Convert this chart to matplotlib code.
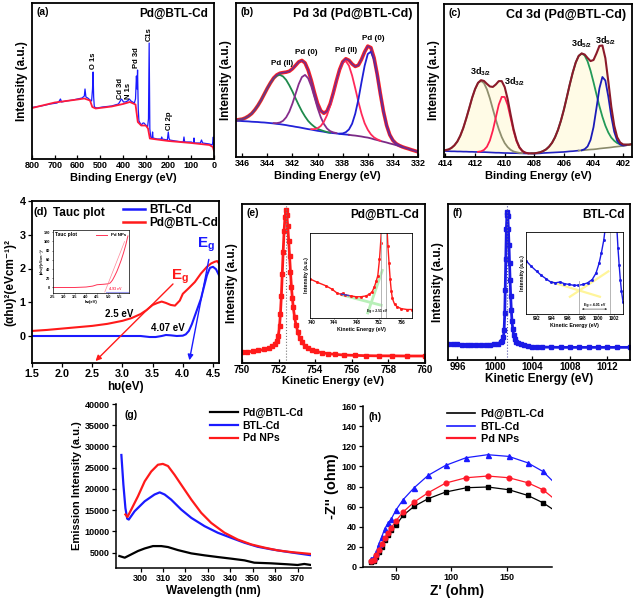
import numpy as np
import matplotlib
matplotlib.use("Agg")
import matplotlib.pyplot as plt
from matplotlib.lines import Line2D

plt.rcParams['font.family'] = ['Liberation Sans', 'DejaVu Sans']
plt.rcParams['font.weight'] = 'bold'
plt.rcParams['axes.labelweight'] = 'bold'
plt.rcParams['mathtext.fontset'] = 'custom'
plt.rcParams['mathtext.rm'] = 'Liberation Sans:bold'
plt.rcParams['mathtext.it'] = 'Liberation Sans:bold'
plt.rcParams['mathtext.bf'] = 'Liberation Sans:bold'
plt.rcParams['mathtext.default'] = 'bf'

# ---------------- data ----------------
# (a) XPS survey (binding energy, counts in arbitrary units)
a_ev_blue = [800, 760, 720, 690, 680, 675, 670, 650, 620, 600, 580, 570, 567, 563, 555, 545, 538, 534,
             531.5, 529, 526, 515, 490, 450, 420, 412, 408, 403, 398, 390, 380, 372, 365, 350, 345, 341,
             338.5, 336, 333, 330, 320, 312, 308, 300, 292, 288, 285, 282, 278, 272, 270, 268, 250, 232,
             230, 228, 205, 201, 198, 195, 170, 135, 132, 129, 100, 90, 88, 86, 60, 55, 50, 20, 8, 5, 3, 1, 0]
a_cps_blue = [51.5, 53, 55, 56, 58, 60, 57, 58, 59, 60, 61, 63, 70, 62, 61, 59, 58, 70,
              87, 62, 52, 51, 52, 53, 55, 58, 60, 59, 57, 57, 58, 60, 58, 56, 60, 83,
              70, 89, 50, 38, 34, 36, 36, 34, 32, 40, 116, 30, 22, 21, 27, 21, 20, 20,
              22, 20, 19, 27, 21, 19, 18, 17, 22, 17, 17, 16, 21, 16, 16, 19, 16, 15, 14, 17, 22, 12, 10]
a_ev_red = [800, 700, 600, 570, 545, 535, 520, 450, 400, 370, 345, 335, 320, 300, 290, 282, 250, 200, 100, 20, 5, 0]
a_cps_red = [51, 56.5, 59.5, 60.5, 58.5, 52, 50.5, 52.5, 55, 57, 54.5, 37, 33.5, 33.5, 30.5, 20.5, 19.5, 18, 16, 14, 12, 8]
a_peak_names = ['O 1s', 'Cd 3d', 'N 1s', 'Pd 3d', 'C1s', 'Cl 2p']
a_peak_ev = [530, 410, 377, 341, 284, 194]
a_peak_y = [90, 60, 60, 91, 118, 29]

# (b) Pd 3d fit: background and component heights above background
b_ev = np.linspace(347, 332, 61)
b_bg = np.array([23.9, 23.8, 23.6, 23.5, 23.3, 23.2, 23.1, 22.9, 22.8, 22.7, 22.5, 22.4, 22.2, 22.0, 21.8,
                 21.5, 21.3, 21.0, 20.7, 20.3, 20.0, 19.6, 19.3, 18.9, 18.5, 18.1, 17.8, 17.4, 17.0, 16.7,
                 16.4, 16.0, 15.7, 15.5, 15.3, 15.0, 14.8, 14.6, 14.4, 14.1, 13.9, 13.6, 13.3, 12.9, 12.6,
                 12.1, 11.5, 11.0, 10.4, 9.9, 9.4, 8.8, 8.3, 7.7, 7.1, 6.5, 5.9, 5.3, 4.6, 4.0, 3.3])
b_pd2_32 = np.array([0.1, 0.2, 0.4, 0.8, 1.3, 2.2, 3.5, 5.3, 7.8, 10.8, 14.4, 18.4, 22.5, 26.2, 29.3, 31.3,
                     32.0, 31.3, 29.3, 26.2, 22.5, 18.4, 14.4, 10.8, 7.8, 5.3, 3.5, 2.2, 1.3, 0.8, 0.4, 0.2,
                     0.1] + [0] * 28)
b_pd0_32 = np.array([0] * 14 + [0.2, 0.5, 1.1, 2.5, 5.1, 9.2, 14.8, 21.5, 28.1, 33.0, 34.8, 33.0, 28.1, 21.5,
                                14.8, 9.2, 5.1, 2.5, 1.1, 0.5, 0.2] + [0] * 26)
b_pd2_52 = np.array([0] * 26 + [0.3, 0.7, 1.7, 3.4, 6.5, 11.1, 17.6, 25.6, 34.0, 41.5, 46.5, 47.7, 44.9,
                                38.8, 30.7, 22.3, 14.8, 9.0, 5.1, 2.6, 1.2, 0.5, 0.2] + [0] * 12)
b_pd0_52 = np.array([0] * 35 + [0.2, 0.5, 1.5, 3.5, 7.5, 14.2, 23.7, 35.3, 46.4, 54.3, 56.3, 51.7, 42.2,
                                30.5, 19.6, 11.1, 5.6, 2.5, 1.0, 0.4, 0.1] + [0] * 5)
b_labels = ['Pd (II)', 'Pd (0)', 'Pd (II)', 'Pd (0)']
b_label_ev = [342.8, 340.9, 337.7, 335.6]
b_label_y = [60.5, 68, 69, 77]

# (c) Cd 3d fit
c_ev = np.linspace(414.2, 401.4, 65)
c_bg = np.array([3.9, 3.9, 3.8, 3.7, 3.7, 3.6, 3.6, 3.5, 3.5, 3.4, 3.4, 3.3,
                 3.3, 3.2, 3.2, 3.1, 3.0, 2.9, 2.8, 2.8, 2.7, 2.6,
                 2.6, 2.5, 2.5, 2.5, 2.4, 2.4, 2.3, 2.3, 2.3, 2.2,
                 2.3, 2.4, 2.6, 2.7, 2.8, 2.9, 3.0, 3.1, 3.2, 3.3,
                 3.5, 3.7, 3.8, 4.0, 4.2, 4.3, 4.5, 4.7, 4.9, 5.0,
                 5.2, 5.5, 5.7, 5.9, 6.1, 6.3, 6.6, 6.8, 7.0, 7.2,
                 7.6, 7.9, 8.3])
c_32_a = np.array([0.3, 0.6, 1.1, 2.2, 3.9, 6.5, 10.3, 15.4, 21.6, 28.4, 35.3, 41.1, 45.1, 46.5, 45.1, 41.1,
                   35.3, 28.4, 21.6, 15.4, 10.3, 6.5, 3.9, 2.2, 1.1, 0.6, 0.3, 0.1] + [0] * 37)
c_32_b = np.array([0] * 12 + [0.1, 0.5, 1.4, 3.6, 7.8, 14.5, 23, 31.4, 36.6, 36.6, 31.4, 23, 14.5, 7.8, 3.6,
                              1.4, 0.5, 0.1] + [0] * 35)
c_52_a = np.array([0] * 30 + [0.1, 0.2, 0.4, 0.7, 1.3, 2.3, 4, 6.4, 9.9, 14.6, 20.6, 27.7, 35.7, 43.9, 51.5,
                              57.8, 61.9, 63.3, 61.9, 57.8, 51.5, 43.9, 35.7, 27.7, 20.6, 14.6, 9.9, 6.4, 4,
                              2.3, 1.3, 0.7, 0.4, 0.2, 0.1])
c_52_b = np.array([0] * 47 + [0.1, 0.6, 2.2, 6.3, 14.5, 26.8, 39.4, 46.6, 44.1, 33.4, 20.3, 9.9, 3.8, 1.2,
                              0.3, 0.1] + [0] * 2)
c_label_ev = [411.6, 409.3, 404.8, 403.2]
c_label_y = [56, 49, 74, 76]
c_label_sub = ['3/2', '3/2', '5/2', '5/2']

# (d) Tauc plot
d_hv_red = [1.5, 1.75, 2.0, 2.25, 2.5, 2.75, 3.0, 3.15, 3.3, 3.4, 3.5, 3.58, 3.65, 3.72, 3.8, 3.87,
            3.95, 4.0, 4.1, 4.2, 4.3, 4.4, 4.47, 4.53, 4.57, 4.6]
d_red = [0.15, 0.18, 0.22, 0.26, 0.30, 0.36, 0.45, 0.53, 0.65, 0.77, 0.92, 0.98, 1.02, 0.98, 0.92, 0.9,
         1.05, 1.25, 1.42, 1.6, 1.85, 2.05, 2.15, 2.2, 2.22, 2.15]
d_hv_blue = [1.5, 2.0, 2.5, 3.0, 3.3, 3.45, 3.55, 3.65, 3.72, 3.8, 3.9, 4.0, 4.05, 4.1, 4.15, 4.2, 4.25,
             4.3, 4.35, 4.4, 4.45, 4.5, 4.55, 4.6]
d_blue = [0.0, 0.0, 0.0, 0.0, 0.0, -0.03, -0.03, 0.0, 0.03, 0.02, 0.0, 0.01, 0.05, 0.15, 0.35, 0.6, 0.85,
          1.1, 1.45, 1.8, 2.02, 2.05, 1.98, 1.8]
d_fit_red = ([3.87, 2.52], [1.6, -0.8])    # tangent -> Eg 2.5 eV
d_fit_blue = ([4.44, 4.10], [2.35, -0.8])  # tangent -> Eg 4.07 eV
d_in_hv = [2.5, 3.0, 3.5, 4.0, 4.3, 4.5, 4.8, 5.0, 5.1, 5.2, 5.3, 5.4, 5.5, 5.6, 5.7, 5.8, 5.9]
d_in_y = [0, 0, 0, 1, 3, 6, 7, 8, 10, 16, 25, 35, 47, 60, 75, 92, 112]
d_in_fit = ([4.85, 5.75], [-10, 100])

# (e) Pd@BTL-Cd kinetic energy spectrum
e_ke = [750.0, 750.3, 750.6, 750.9, 751.2, 751.45, 751.65, 751.8, 751.9, 751.98, 752.05, 752.1, 752.15,
        752.2, 752.25, 752.3, 752.35, 752.4, 752.45, 752.5, 752.55, 752.6, 752.65, 752.7, 752.75, 752.8,
        752.87, 752.95, 753.05, 753.15, 753.28, 753.42, 753.6, 753.8, 754.05, 754.35, 754.7, 755.1, 755.6,
        756.2, 756.8, 757.5, 758.2, 759.0, 760.0]
e_int = [6.7, 7.0, 7.4, 7.9, 8.5, 9.3, 10.5, 12, 14, 17, 23, 31, 42, 56, 70, 83, 92, 96, 93, 86, 77, 67,
         57, 48, 41, 35, 29, 24, 19.5, 16, 13, 11, 9.4, 8.2, 7.3, 6.5, 5.9, 5.4, 5.0, 4.8, 4.6, 4.5, 4.5,
         4.4, 4.4]
e_peak = 752.4
e_in_ke = [739.7, 741.0, 742.5, 743.6, 744.6, 745.2, 745.5, 746.0, 747.0, 747.9, 748.8, 749.7, 750.3,
           750.8, 751.2, 751.5, 751.8, 752.1, 752.3, 752.5, 753.4, 753.6, 753.8, 754.0, 754.2, 754.4,
           754.8, 755.3, 756.0, 757.0, 757.9]
e_in_int = [0.46, 0.42, 0.38, 0.34, 0.29, 0.28, 0.29, 0.27, 0.26, 0.25, 0.25, 0.26, 0.28, 0.31, 0.37,
            0.43, 0.5, 0.69, 0.88, 1.1, 1.1, 0.85, 0.65, 0.46, 0.32, 0.23, 0.16, 0.13, 0.11, 0.1, 0.1]
e_in_fit1 = ([745.5, 752.4], [0.27, 0.15])
e_in_fit2 = ([750.0, 752.6], [0.06, 0.56])

# (f) BTL-Cd kinetic energy spectrum
f_ke = [995.0, 995.5, 996.0, 996.5, 997.0, 997.5, 998.0, 998.5, 999.0, 999.5, 999.9, 1000.3, 1000.6,
        1000.8, 1000.9, 1000.98, 1001.05, 1001.1, 1001.16, 1001.22, 1001.28, 1001.33, 1001.38, 1001.44,
        1001.5, 1001.56, 1001.62, 1001.68, 1001.75, 1001.82, 1001.9, 1002.0, 1002.12, 1002.3, 1002.5,
        1002.75, 1003.1, 1003.5, 1004.0, 1004.5, 1005.0, 1006.0, 1007.0, 1008.0, 1009.0, 1010.0, 1011.0,
        1012.0, 1013.0, 1014.4]
f_int = [10.3, 10.1, 10.0, 9.8, 9.7, 9.6, 9.5, 9.4, 9.4, 9.6, 10.0, 10.5, 11.3, 12.5, 14.5, 19, 30, 45,
         65, 84, 93, 95, 92, 84, 74, 62, 51, 41, 32, 25, 20, 16, 13.5, 11.8, 10.8, 10.0, 9.3, 8.9, 8.5, 8.4,
         8.3, 8.2, 8.1, 8.1, 8.1, 8.1, 8.1, 8.1, 8.1, 8.1]
f_peak = 1001.33
f_in_ke = [990.6, 991.3, 992.0, 992.6, 993.2, 993.8, 994.4, 995.0, 995.6, 996.2, 996.8, 997.4, 998.0,
           998.6, 999.2, 999.7, 1000.1, 1000.4, 1000.7, 1000.9, 1002.4, 1002.55, 1002.7, 1002.85, 1003.0,
           1003.2]
f_in_int = [0.65, 0.58, 0.52, 0.47, 0.43, 0.39, 0.38, 0.39, 0.37, 0.36, 0.35, 0.35, 0.36, 0.38, 0.42,
            0.5, 0.62, 0.75, 0.9, 1.05, 1.05, 0.8, 0.6, 0.42, 0.28, 0.15]
f_in_fit1 = ([993.9, 1000.2], [0.39, 0.21])
f_in_fit2 = ([996.3, 1001.3], [0.21, 0.52])

# (g) emission spectra
g_wl_black = [290.5, 292.9, 295.8, 298.8, 301.8, 305.5, 309.2, 312.2, 316.6, 322.6, 328.5, 334.4, 340.4,
              346.3, 350.7, 358.2, 365.6, 370.0, 373.0, 376.0]
g_black = [4220, 3830, 4600, 5400, 6000, 6560, 6560, 6330, 5620, 4840, 4380, 3980, 3600, 3200, 2650, 2500,
           2270, 2110, 2350, 2110]
g_wl_blue = [291.4, 292.3, 293.2, 294.0, 294.7, 297.3, 301.8, 306.2, 308.5, 310.7, 313.6, 318.1, 322.6,
             328.5, 334.4, 340.4, 346.3, 352.2, 358.2, 364.1, 370.0, 376.0]
g_blue = [28000, 21000, 15500, 13000, 12800, 14760, 17100, 18700, 19200, 18700, 17500, 15150, 13200, 11250,
          9700, 8500, 7350, 6400, 5800, 5300, 4850, 4400]
g_wl_red = [293.2, 294.1, 295.8, 298.8, 301.8, 304.7, 307.7, 309.9, 312.2, 315.1, 318.1, 322.6, 327.0,
            331.5, 337.4, 343.3, 349.3, 355.2, 361.1, 367.1, 376.0]
g_red = [14000, 13400, 15150, 18280, 21800, 24100, 25700, 25900, 25400, 23350, 21000, 17500, 14400, 12000,
         9700, 8100, 6950, 6200, 5550, 5150, 4700]

# (h) Nyquist plots
h_x_black = [28.0, 30.4, 32.5, 34.9, 37.3, 40.1, 43.1, 46.1, 50.6, 56.6, 66.6, 79.2, 94.9, 113.9, 132.8,
             151.8, 168.7, 182.5, 190.7]
h_y_black = [5.0, 6.0, 9.9, 14.9, 19.9, 26.5, 31.5, 36.4, 42.1, 51.3, 60.3, 67.9, 74.5, 78.8, 79.5, 76.8,
             71.2, 63.9, 57.9]
h_x_red = [28.0, 30.4, 32.5, 34.9, 37.3, 40.1, 43.1, 46.1, 50.0, 56.6, 66.6, 79.2, 94.9, 113.3, 132.8,
           151.8, 168.7, 182.5, 190.7]
h_y_red = [6.0, 6.6, 11.6, 17.2, 22.5, 29.1, 33.8, 39.1, 45.7, 54.6, 64.6, 73.8, 83.4, 88.7, 90.4, 88.7,
           83.8, 76.8, 69.5]
h_x_blue = h_x_red
h_y_blue = [8.3, 9.9, 14.9, 23.2, 29.8, 38.1, 43.7, 48.0, 56.3, 66.9, 78.8, 91.1, 101.0, 108.6, 111.6,
            109.9, 103.6, 95.0, 86.1]

# ---------------- figure ----------------
W, H = 633, 601
fig = plt.figure(figsize=(W / 100, H / 100), dpi=100)


def panel(left, top, right, bottom):
    # place axes by pixel edges
    return fig.add_axes([left / W, 1 - bottom / H, (right - left) / W, (bottom - top) / H])


def style(ax, size, direction='in', lw=1.3):
    ax.tick_params(labelsize=size, width=0.9, length=3, pad=1.5, direction=direction)
    for s in ax.spines.values():
        s.set_linewidth(lw)


def corner(ax, tag, title=None, tsize=8.5):
    ax.text(0.025, 0.975, tag, transform=ax.transAxes, fontsize=7.5, va='top')
    if title:
        ax.text(0.97, 0.97, title, transform=ax.transAxes, fontsize=tsize, ha='right', va='top')


# (a)
ax = panel(32, 3, 214, 159)
ax.plot(a_ev_blue, a_cps_blue, color='#1a1aff', lw=0.9)
ax.plot(a_ev_red, a_cps_red, color='#ff1a3c', lw=1.3)
ax.set_xlim(800, 0)
ax.set_ylim(0, 156)
ax.set_xticks(range(800, -1, -100))
ax.set_yticks([])
style(ax, 6.5)
ax.set_xlabel('Binding Energy (eV)', fontsize=8, labelpad=2)
ax.set_ylabel('Intensity (a.u.)', fontsize=8.5, labelpad=3)
corner(ax, '(a)', 'Pd@BTL-Cd')
for name, e, y in zip(a_peak_names, a_peak_ev, a_peak_y):
    ax.text(e, y, name, rotation=90, fontsize=5.5, ha='center', va='bottom')

# (b)
ax = panel(236, 3, 418, 157)
b_comps = [b_pd2_32, b_pd0_32, b_pd2_52, b_pd0_52]
b_env = b_bg + sum(b_comps)
ax.plot(b_ev, b_env, color='#ff2020', lw=2.6)
ax.plot(b_ev, np.where(b_ev >= 337.5, b_bg, np.nan), color='#2323d8', lw=1.3)
ax.plot(b_ev, np.where(b_ev <= 337.5, b_bg, np.nan), color='#7b2a86', lw=1.3)
for comp, col in zip(b_comps, ['#1f8a4c', '#862d8c', '#ff2a5a', '#1f1fd6']):
    ax.plot(b_ev, np.where(comp > 0, b_bg + comp, np.nan), color=col, lw=1.3)
ax.plot(b_ev, b_env, color='#7b2a86', lw=1.2)
ax.set_xlim(346.5, 332)
ax.set_ylim(0, 100)
ax.set_xticks(range(346, 331, -2))
ax.set_yticks([])
style(ax, 6.5)
ax.set_xlabel('Binding Energy (eV)', fontsize=8, labelpad=2)
ax.set_ylabel('Intensity (a.u.)', fontsize=8.5, labelpad=3)
corner(ax, '(b)', 'Pd 3d (Pd@BTL-Cd)', 9)
for name, e, y in zip(b_labels, b_label_ev, b_label_y):
    ax.text(e, y, name, fontsize=5.8, ha='center', va='center')

# (c)
ax = panel(444, 4, 632, 157)
c_comps = [c_32_a, c_32_b, c_52_a, c_52_b]
c_env = c_bg + sum(c_comps)
ax.fill_between(c_ev, c_bg, c_env, color='#fffbe6', lw=0)
ax.plot(c_ev, np.where(c_ev >= 405, c_bg, np.nan), color='#2020c0', lw=1.2)
ax.plot(c_ev, np.where(c_ev <= 405, c_bg, np.nan), color='#8a8a6a', lw=1.2)
for comp, col in zip(c_comps, ['#8f8f6e', '#ff1f4f', '#239a58', '#1b1bb8']):
    ax.plot(c_ev, np.where(comp > 0, c_bg + comp, np.nan), color=col, lw=1.3)
ax.plot(c_ev, c_env, color='#8b1a2a', lw=1.5)
ax.set_xlim(414.1, 401.4)
ax.set_ylim(0, 100)
ax.set_xticks(range(414, 401, -2))
ax.set_yticks([])
style(ax, 6.5)
ax.set_xlabel('Binding Energy (eV)', fontsize=8, labelpad=2)
ax.set_ylabel('Intensity (a.u.)', fontsize=8.5, labelpad=3)
corner(ax, '(c)', 'Cd 3d (Pd@BTL-Cd)', 9)
for e, y, sub in zip(c_label_ev, c_label_y, c_label_sub):
    ax.text(e, y, '3d$_{' + sub + '}$', fontsize=6.5, ha='center', va='center')

# (d)
ax = panel(32, 201, 219, 363)
ax.plot(d_hv_blue, d_blue, color='#1a1aff', lw=1.5)
ax.plot(d_hv_red, d_red, color='#ff1a1a', lw=1.5)
ax.annotate('', xy=(d_fit_red[0][1], d_fit_red[1][1]), xytext=(d_fit_red[0][0], d_fit_red[1][0]),
            arrowprops=dict(arrowstyle='-|>', color='#ff1a1a', lw=1.0, mutation_scale=8))
ax.annotate('', xy=(d_fit_blue[0][1], d_fit_blue[1][1]), xytext=(d_fit_blue[0][0], d_fit_blue[1][0]),
            arrowprops=dict(arrowstyle='-|>', color='#1a1aff', lw=1.0, mutation_scale=8))
ax.text(3.95, 1.75, 'E$_g$', color='#ff1a1a', fontsize=11, ha='center', va='center')
ax.text(4.39, 2.7, 'E$_g$', color='#1a1aff', fontsize=11, ha='center', va='center')
ax.text(2.95, 0.65, '2.5 eV', fontsize=7, ha='center', va='center')
ax.text(3.76, 0.25, '4.07 eV', fontsize=7, ha='center', va='center')
ax.set_xlim(1.5, 4.6)
ax.set_ylim(-0.8, 4.0)
ax.set_xticks([1.5, 2.0, 2.5, 3.0, 3.5, 4.0, 4.5])
ax.set_yticks([0, 1, 2, 3, 4])
style(ax, 7.8, direction='out')
ax.set_xlabel('h\u03c5(eV)', fontsize=8.5, labelpad=1)
ax.set_ylabel('(\u03b1h\u03c5)\u00b2(eVcm\u207b\u00b9)\u00b2', fontsize=8.5, labelpad=2)
ax.text(0.01, 0.96, '(d)', transform=ax.transAxes, fontsize=8, va='top')
ax.text(0.11, 0.965, 'Tauc plot', transform=ax.transAxes, fontsize=8.5, va='top')
ax.legend([Line2D([], [], color='#1a1aff', lw=1.8), Line2D([], [], color='#ff1a1a', lw=1.8)],
          ['BTL-Cd', 'Pd@BTL-Cd'], loc='upper left', bbox_to_anchor=(0.44, 1.03), frameon=False,
          fontsize=8.5, handlelength=1.9, handletextpad=0.4, labelspacing=0.05, borderpad=0.2)

ins = panel(53, 230, 129, 293)
ins.plot(d_in_hv, d_in_y, color='#ff3355', lw=0.7)
ins.plot(d_in_fit[0], d_in_fit[1], color='#ff8899', lw=0.5)
ins.axhline(-10, xmin=0.7, color='#9999ee', lw=0.8)
ins.text(5.05, -5, '4.93 eV', color='#ff3355', fontsize=2.5)
ins.set_xlim(2.5, 5.95)
ins.set_ylim(-12, 125)
ins.set_xticks([2.5, 3.0, 3.5, 4.0, 4.5, 5.0, 5.5])
ins.set_yticks([0, 20, 40, 60, 80, 100, 120])
ins.tick_params(labelsize=2.8, length=1, width=0.4, pad=0.8)
for s in ins.spines.values():
    s.set_linewidth(0.5)
ins.set_xlabel('h\u03c5(eV)', fontsize=3, labelpad=0.5)
ins.set_ylabel('(\u03b1h\u03c5)\u00b2(eVcm\u207b\u00b9)\u00b2', fontsize=2.5, labelpad=0.5)
ins.text(0.03, 0.97, 'Tauc plot', transform=ins.transAxes, fontsize=3.6, va='top')
ins.legend([Line2D([], [], color='#ff3355', lw=0.7)], ['Pd NPs'], loc='upper right', frameon=False,
           fontsize=3.2, handlelength=2.5, borderpad=0.2)

# (e)
ax = panel(242, 204, 425, 363)
ax.plot(e_ke, e_int, color='#ff1a1a', lw=2.0, marker='s', ms=2.3)
ax.axvline(e_peak, color='#777777', lw=0.8, ls=':')
ax.set_xlim(750, 760)
ax.set_ylim(0, 100)
ax.set_xticks(range(750, 761, 2))
ax.set_yticks([])
style(ax, 7)
ax.set_xlabel('Kinetic Energy (eV)', fontsize=8, labelpad=1)
ax.set_ylabel('Intensity (a.u.)', fontsize=8.5, labelpad=3)
corner(ax, '(e)', 'Pd@BTL-Cd')

ins = panel(310, 233, 412, 318)
ins.plot(e_in_fit1[0], e_in_fit1[1], color='#b8f0b8', lw=2)
ins.plot(e_in_fit2[0], e_in_fit2[1], color='#b8f0b8', lw=2)
ins.plot(e_in_ke, e_in_int, color='#ff1a1a', lw=1.0, marker='s', ms=1.0)
ins.plot([745.3, 746.6], [0.28, 0.265], color='#3344cc', lw=1)
ins.axvline(752.4, color='#aaaaaa', lw=0.6)
ins.axvline(753.2, color='#aaaaaa', lw=0.6)
ins.text(751.6, 0.07, 'Eg = 2.51 eV', fontsize=2.4, ha='center')
ins.set_xlim(739.7, 757.9)
ins.set_ylim(0, 1)
ins.set_xticks([740, 744, 748, 752, 756])
ins.set_yticks([])
ins.tick_params(labelsize=3.3, length=1, width=0.4, pad=0.8)
for s in ins.spines.values():
    s.set_linewidth(0.6)
ins.set_xlabel('Kinetic Energy (eV)', fontsize=3.8, labelpad=0.8)
ins.set_ylabel('Intensity (a.u.)', fontsize=3.8, labelpad=1)

# (f)
ax = panel(448, 204, 630, 360)
ax.plot(f_ke, f_int, color='#1a1ae6', lw=2.0, marker='s', ms=2.3)
ax.axvline(f_peak, color='#5555aa', lw=0.8, ls=':')
ax.set_xlim(995, 1014.4)
ax.set_ylim(0, 100)
ax.set_xticks(range(996, 1013, 4))
ax.set_yticks([])
style(ax, 7)
ax.set_xlabel('Kinetic Energy (eV)', fontsize=8.5, labelpad=1)
ax.set_ylabel('Intensity (a.u.)', fontsize=8.5, labelpad=3)
corner(ax, '(f)', 'BTL-Cd')

ins = panel(526, 232, 623, 314)
ins.plot(f_in_fit1[0], f_in_fit1[1], color='#fff59a', lw=1.6)
ins.plot(f_in_fit2[0], f_in_fit2[1], color='#fff59a', lw=1.6)
ins.plot(f_in_ke, f_in_int, color='#1a1ae6', lw=1.0, marker='s', ms=1.0)
ins.axvline(997.5, ymax=0.4, color='#aaaaaa', lw=0.6)
ins.axvline(1001.5, color='#aaaaaa', lw=0.6)
ins.annotate('', xy=(1001.5, 0.06), xytext=(997.5, 0.06),
             arrowprops=dict(arrowstyle='<|-|>', color='#333333', lw=0.4, mutation_scale=2.5))
ins.text(999.5, 0.1, 'Eg = 4.01 eV', fontsize=2.6, ha='center')
ins.set_xlim(990.6, 1003.2)
ins.set_ylim(0, 1)
ins.set_xticks(range(992, 1003, 2))
ins.set_yticks([])
ins.tick_params(labelsize=3.3, length=1, width=0.4, pad=0.8)
for s in ins.spines.values():
    s.set_linewidth(0.6)
ins.set_xlabel('Kinetic Energy (eV)', fontsize=3.8, labelpad=0.8)
ins.set_ylabel('Intensity (a.u.)', fontsize=3.8, labelpad=1)

# (g)
ax = panel(116, 404, 311, 568)
ax.plot(g_wl_black, g_black, color='black', lw=1.6, label='Pd@BTL-Cd')
ax.plot(g_wl_blue, g_blue, color='#1a1aff', lw=1.6, label='BTL-Cd')
ax.plot(g_wl_red, g_red, color='#ff1a1a', lw=1.6, label='Pd NPs')
ax.set_xlim(289, 376)
ax.set_ylim(1400, 40000)
ax.set_xticks(range(300, 371, 10))
ax.set_yticks(range(5000, 40001, 5000))
style(ax, 6.5, direction='out', lw=1.1)
ax.spines['top'].set_visible(False)
ax.spines['right'].set_visible(False)
ax.set_xlabel('Wavelength (nm)', fontsize=8.5, labelpad=1)
ax.set_ylabel('Emission Intensity (a.u.)', fontsize=8, labelpad=2)
ax.text(0.045, 0.965, '(g)', transform=ax.transAxes, fontsize=7.5, va='top')
ax.legend(loc='upper right', bbox_to_anchor=(1.0, 1.02), frameon=False, fontsize=7.5,
          handlelength=2.6, handletextpad=0.5, labelspacing=0.25, borderpad=0.2)

# (h)
ax = panel(363, 406, 552, 567)
last = list(range(len(h_x_black) - 1))
ax.plot(h_x_black, h_y_black, color='black', lw=0.9, marker='s', ms=3, markevery=last)
ax.plot(h_x_blue, h_y_blue, color='#1a1aff', lw=0.9, marker='^', ms=3.6, markevery=last)
ax.plot(h_x_red, h_y_red, color='#ff1a2a', lw=0.9, marker='o', ms=3.4, markevery=last)
ax.set_xlim(20.5, 190.7)
ax.set_ylim(0, 160)
ax.set_xticks([50, 100, 150])
ax.set_yticks(range(0, 161, 20))
style(ax, 6.5, direction='out', lw=1.1)
ax.spines['top'].set_visible(False)
ax.spines['right'].set_visible(False)
ax.set_xlabel("Z' (ohm)", fontsize=10, labelpad=1)
ax.set_ylabel("-Z'' (ohm)", fontsize=10.5, labelpad=2)
ax.text(0.03, 0.965, '(h)', transform=ax.transAxes, fontsize=7.5, va='top')
ax.legend([Line2D([], [], color='black', lw=1.2), Line2D([], [], color='#1a1aff', lw=1.2),
           Line2D([], [], color='#ff1a2a', lw=1.6)], ['Pd@BTL-Cd', 'BTL-Cd', 'Pd NPs'],
          loc='upper right', bbox_to_anchor=(1.0, 1.03), frameon=False, fontsize=7.8,
          handlelength=2.6, handletextpad=0.5, labelspacing=0.25, borderpad=0.2)

fig.savefig('out.png', dpi=100)
